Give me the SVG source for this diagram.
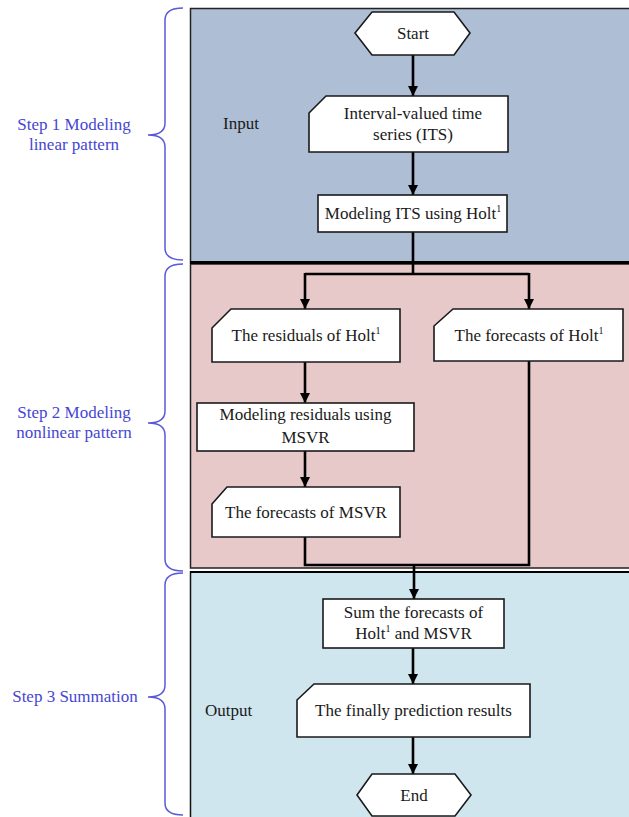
<svg xmlns="http://www.w3.org/2000/svg" width="629" height="817" viewBox="0 0 629 817">
<style>
text{font-family:"Liberation Serif","Times New Roman",serif;font-size:17px;fill:#1a1a1a}
.node text{text-anchor:middle}
.step{fill:#4646d2}
.box{fill:#ffffff;stroke:#1a1a1a;stroke-width:1.6}
.brace{fill:none;stroke:#5a5ad8;stroke-width:1.5}
.conn{fill:none;stroke:#000;stroke-width:2.6}
.sup{font-size:10px}
</style>
<defs>
<marker id="arr" viewBox="0 0 10 10" refX="10" refY="5" markerWidth="4" markerHeight="4" markerUnits="strokeWidth" orient="auto">
<path d="M0,0 L10,5 L0,10 z" fill="#000"/>
</marker>
</defs>
<g id="panels">
<rect x="190.5" y="8.5" width="450" height="254" fill="#aebfd5" stroke="#222" stroke-width="1.5"/>
<rect x="190.5" y="264" width="450" height="304" fill="#e8c9ca" stroke="#222" stroke-width="1.5"/>
<rect x="190.5" y="572" width="450" height="260" fill="#cfe6ee" stroke="#111" stroke-width="1.5"/>
<line x1="190" y1="262.5" x2="629" y2="262.5" stroke="#000" stroke-width="3"/>
<line x1="190" y1="572" x2="629" y2="572" stroke="#000" stroke-width="2.2"/>
</g>
<g id="braces">
<path class="brace" d="M183,8 Q165,8 165,20 L165,123 Q165,135 148,135 Q165,135 165,147 L165,248 Q165,260 183,260"/>
<path class="brace" d="M183,264 Q165,264 165,276 L165,411 Q165,423 148,423 Q165,423 165,435 L165,559 Q165,571 183,571"/>
<path class="brace" d="M183,573 Q165,573 165,585 L165,685 Q165,697 148,697 Q165,697 165,709 L165,803 Q165,815 183,815"/>
</g>
<g id="labels">
<text class="step" x="74" y="130" text-anchor="middle">Step 1 Modeling</text>
<text class="step" x="74" y="150" text-anchor="middle">linear pattern</text>
<text class="step" x="74" y="418" text-anchor="middle">Step 2 Modeling</text>
<text class="step" x="74" y="438" text-anchor="middle">nonlinear pattern</text>
<text class="step" x="75" y="702" text-anchor="middle">Step 3 Summation</text>
<text x="223" y="129">Input</text>
<text x="205" y="716">Output</text>
</g>
<g id="connectors">
<line class="conn" x1="413" y1="55" x2="413" y2="96" marker-end="url(#arr)"/>
<line class="conn" x1="413" y1="152" x2="413" y2="195" marker-end="url(#arr)"/>
<polyline class="conn" points="413,232 413,274"/>
<polyline class="conn" points="305,274 529,274"/>
<line class="conn" x1="305" y1="273" x2="305" y2="309" marker-end="url(#arr)"/>
<line class="conn" x1="529" y1="273" x2="529" y2="309" marker-end="url(#arr)"/>
<line class="conn" x1="305" y1="362" x2="305" y2="403" marker-end="url(#arr)"/>
<line class="conn" x1="305" y1="451" x2="305" y2="487" marker-end="url(#arr)"/>
<polyline class="conn" points="305,537 305,565 529,565 529,361"/>
<line class="conn" x1="414" y1="565" x2="414" y2="599" marker-end="url(#arr)"/>
<line class="conn" x1="413" y1="648" x2="413" y2="684" marker-end="url(#arr)"/>
<line class="conn" x1="413" y1="737" x2="413" y2="774" marker-end="url(#arr)"/>
</g>
<g id="start" class="node">
<polygon class="box" points="355,33 372,12 454,12 470,33 454,55 372,55"/>
<text x="413" y="39">Start</text>
</g>
<g id="its" class="node">
<polygon class="box" points="309,113 326,96 508,96 508,152 309,152"/>
<text x="413" y="119">Interval-valued time</text>
<text x="413" y="140">series (ITS)</text>
</g>
<g id="holt" class="node">
<rect class="box" x="318" y="195" width="189" height="37"/>
<text x="413" y="219">Modeling ITS using Holt<tspan class="sup" dy="-7">1</tspan></text>
</g>
<g id="residuals" class="node">
<polygon class="box" points="212,328 231,309 400,309 400,362 212,362"/>
<text x="306" y="341">The residuals of Holt<tspan class="sup" dy="-7">1</tspan></text>
</g>
<g id="forecasts-holt" class="node">
<polygon class="box" points="434,326 453,309 623,309 623,361 434,361"/>
<text x="529" y="341">The forecasts of Holt<tspan class="sup" dy="-7">1</tspan></text>
</g>
<g id="msvr" class="node">
<rect class="box" x="197" y="403" width="217" height="48"/>
<text x="305.5" y="420">Modeling residuals using</text>
<text x="305.5" y="443">MSVR</text>
</g>
<g id="forecasts-msvr" class="node">
<polygon class="box" points="212,504 227,487 400,487 400,537 212,537"/>
<text x="306" y="518">The forecasts of MSVR</text>
</g>
<g id="sum" class="node">
<rect class="box" x="323" y="599" width="181" height="49"/>
<text x="413.5" y="618">Sum the forecasts of</text>
<text x="413.5" y="639">Holt<tspan class="sup" dy="-7">1</tspan><tspan dy="7"> and MSVR</tspan></text>
</g>
<g id="final" class="node">
<polygon class="box" points="297,700 314,684 530,684 530,737 297,737"/>
<text x="413.5" y="716">The finally prediction results</text>
</g>
<g id="end" class="node">
<polygon class="box" points="357,795 372,774 455,774 471,795 455,816 372,816"/>
<text x="414" y="801">End</text>
</g>
</svg>
